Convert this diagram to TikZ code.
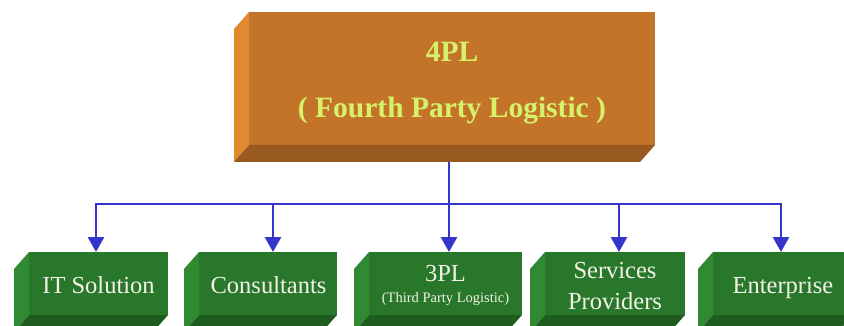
\documentclass[tikz,border=0pt]{standalone}
\usepackage{fontspec}
\setmainfont{Liberation Serif}
\usetikzlibrary{arrows.meta,calc}

\definecolor{ofront}{HTML}{C47428}
\definecolor{oside}{HTML}{E08A30}
\definecolor{obottom}{HTML}{985A20}
\definecolor{gfront}{HTML}{29772B}
\definecolor{gside}{HTML}{2F8A32}
\definecolor{gbottom}{HTML}{1F5C20}
\definecolor{wireblue}{HTML}{3535CC}
\definecolor{titletext}{HTML}{D6F26A}
\definecolor{labeltext}{HTML}{F2F2E6}

\tikzset{
  face/.style={rectangle, inner sep=0pt, outer sep=0pt, draw=none},
  topface/.style={face, fill=ofront, minimum width=406pt, minimum height=133pt},
  unitface/.style={face, fill=gfront, minimum height=63pt},
  wire/.style={draw=wireblue, line width=2.8pt},
  drop/.style={wire, -{Triangle[width=16pt,length=15pt]}},
  toplabel/.style={anchor=base, text=titletext, inner sep=0pt,
    font=\fontsize{29.5}{31}\selectfont\bfseries},
  boxlabel/.style={anchor=base, text=labeltext, inner sep=0pt,
    font=\fontsize{24.5}{26}\selectfont},
  smalllabel/.style={anchor=base, text=labeltext, inner sep=0pt,
    font=\fontsize{14.5}{16}\selectfont},
}

% bevelled left and bottom faces of a slab whose front is node #1
\newcommand\slabsides[3]{%
  \fill[#2] (#1.north west) -- ++(-15,17) -- ($(#1.south west)+(-15,17)$)
            -- (#1.south west) -- cycle;
  \fill[#3] (#1.south west) -- (#1.south east) -- ++(-15,17)
            -- ($(#1.south west)+(-15,17)$) -- cycle;
}

\begin{document}
\begin{tikzpicture}[x=1pt,y=-1pt]
\useasboundingbox (0,0) rectangle (844,326);
\clip (0,0) rectangle (844,326);
\fill[white] (0,0) rectangle (844,326);

% front faces
\node[topface] (top) at (452,78.5) {};
\node[unitface, minimum width=139pt] (it)   at (98.5,283.5) {};
\node[unitface, minimum width=138pt] (cons) at (268,283.5) {};
\node[unitface, minimum width=153pt] (tpl)  at (445.5,283.5) {};
\node[unitface, minimum width=140pt] (serv) at (615,283.5) {};
\node[unitface, minimum width=140pt] (ent)  at (783,283.5) {};

% bevels
\slabsides{top}{oside}{obottom}
\foreach \b in {it,cons,tpl,serv,ent}{\slabsides{\b}{gside}{gbottom}}

% connectors
\coordinate (d1) at ([xshift=-2.5pt]it.north);
\coordinate (d2) at ([xshift=5pt]cons.north);
\coordinate (d3) at ([xshift=3.5pt]tpl.north);
\coordinate (d4) at ([xshift=4pt]serv.north);
\coordinate (d5) at ([xshift=-2pt]ent.north);
\coordinate (bus) at (449,204);

\draw[drop] ($(top.south)+(-3,17)$) -- (d3);
\draw[drop] (bus) -| (d1);
\draw[drop] (bus) -| (d5);
\draw[drop] (bus -| d2) -- (d2);
\draw[drop] (bus -| d4) -- (d4);

% texts
\node[toplabel] (t1) at (452,61.5) {4PL};
\node[toplabel] (t2) at (452,118) {( Fourth Party Logistic )};
\node[boxlabel] (l1) at (98.5,293) {IT Solution};
\node[boxlabel] (l2) at (268.5,293) {Consultants};
\node[boxlabel] (l3a) at (445.5,281) {3PL};
\node[smalllabel] (l3b) at (445.5,302) {(Third Party Logistic)};
\node[boxlabel] (l4a) at (615,278) {Services};
\node[boxlabel] (l4b) at (615,309) {Providers};
\node[boxlabel] (l5) at (783,293) {Enterprise};
\end{tikzpicture}
\end{document}
